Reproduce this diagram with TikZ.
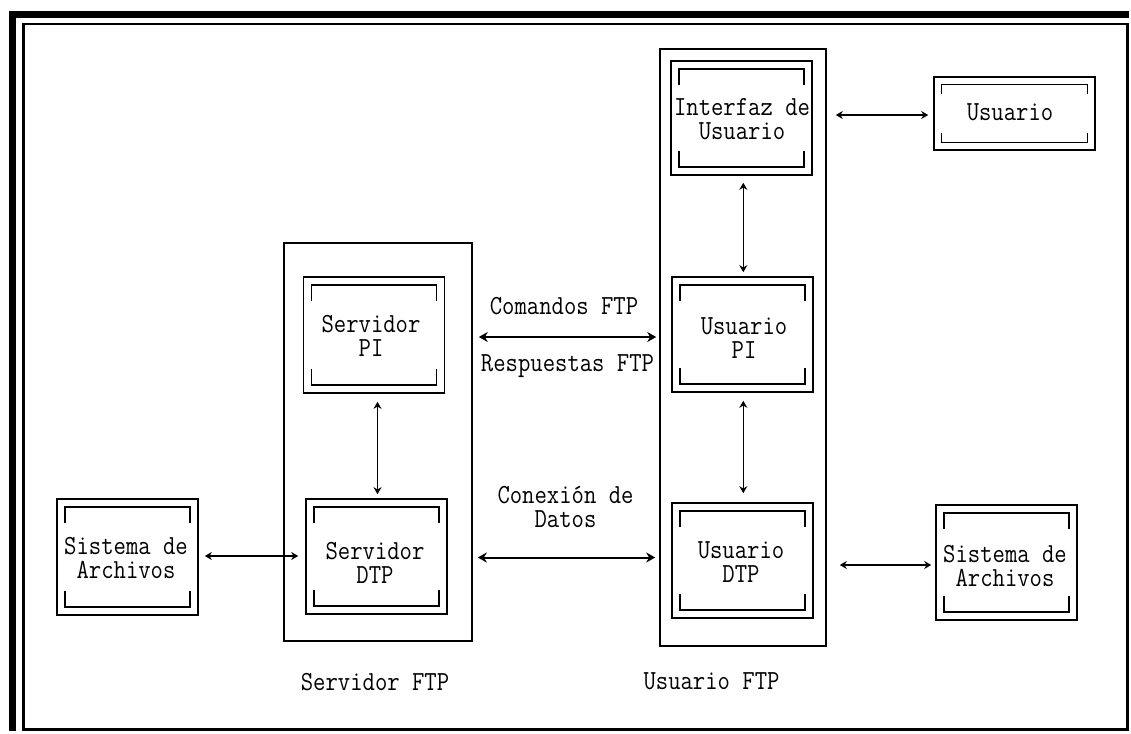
\documentclass[tikz,border=0pt]{standalone}
\usepackage{fontspec}
\usetikzlibrary{arrows.meta,calc}
% inner corner brackets of a double box: node name, inset, tick length
\newcommand\brackets[3]{%
  \draw[line width=1.5pt] ([shift={(#2,#2+#3)}]#1.north west) -- ++(0,-#3)
    -- ([shift={(-#2,#2)}]#1.north east) -- ++(0,#3);
  \draw[line width=1.5pt] ([shift={(#2,-#2-#3)}]#1.south west) -- ++(0,#3)
    -- ([shift={(-#2,-#2)}]#1.south east) -- ++(0,-#3);
}
\begin{document}
\begin{tikzpicture}[x=1pt,y=-1pt,
  box/.style={draw, line width=1.6pt, inner sep=0pt},
  unit/.style={box, minimum width=141pt, minimum height=115pt},
  txt/.style={font=\fontsize{24}{21}\selectfont\ttfamily, align=center, inner sep=0pt, yscale=1.15},
  link/.style={line width=1.5pt, {Stealth[length=7pt,width=8pt]}-{Stealth[length=7pt,width=8pt]}},
  biglink/.style={line width=2pt, {Stealth[length=9pt,width=10pt]}-{Stealth[length=9pt,width=10pt]}}]
\useasboundingbox (0,0) rectangle (1131,733);
\fill[white] (0,0) rectangle (1131,733);

% window frame
\fill[black] (9,11) rectangle (1129,18);
\fill[black] (9,11) rectangle (16,731);
\draw[line width=2.5pt] (23.5,24) rectangle (1127.5,729.5);

% containers
\node[box, minimum width=188pt, minimum height=398pt] (scont) at (378,442) {};
\node[box, minimum width=166pt, minimum height=597pt] (ucont) at (743,347.5) {};

% server side
\node[unit, minimum height=116pt] (spi) at (374,335) {};
\node[unit] (sdtp) at (376.5,556.5) {};
\node[unit, minimum height=116pt] (lfs) at (127.5,557) {};

% user side
\node[unit, minimum height=114pt] (ui) at (741.5,118) {};
\node[unit] (upi) at (742.5,334.5) {};
\node[unit] (udtp) at (742.5,560.5) {};
\node[unit] (rfs) at (1006.5,562.5) {};
\node[box, minimum width=161pt, minimum height=73pt] (usr) at (1014.5,113.5) {};

\brackets{spi}{9}{16}
\brackets{sdtp}{9}{16}
\brackets{lfs}{9}{16}
\brackets{ui}{9}{16}
\brackets{upi}{9}{16}
\brackets{udtp}{9}{16}
\brackets{rfs}{9}{16}
\brackets{usr}{8.5}{9}

% box texts
\node[txt] (spi-t) at (371,336) {Servidor\\PI};
\node[txt] (sdtp-t) at (375,563) {Servidor\\DTP};
\node[txt] (lfs-t) at (126,558) {Sistema de\\Archivos};
\node[txt] (ui-t) at (742,119) {Interfaz de\\Usuario};
\node[txt] (upi-t) at (744,338) {Usuario\\PI};
\node[txt] (udtp-t) at (741,562) {Usuario\\DTP};
\node[txt] (rfs-t) at (1005,566) {Sistema de\\Archivos};
\node[txt] (usr-t) at (1010,112) {Usuario};

% channel labels
\node[txt] (cmd) at (564,306) {Comandos FTP};
\node[txt] (resp) at (567.5,366) {Respuestas FTP};
\node[txt] (data) at (565.5,507) {Conexión de\\Datos};
\node[txt] (scont-t) at (375,682) {Servidor FTP};
\node[txt] (ucont-t) at (711.5,681) {Usuario FTP};

% connectors
\draw[link, shorten <=8pt, shorten >=4pt] ($(spi.south)+(3.5,0)$) -- ($(sdtp.north)+(1,0)$);
\draw[link, shorten <=7pt, shorten >=4pt] ($(ui.south)+(1.8,0)$) -- ($(upi.north)+(0.8,0)$);
\draw[link, shorten <=8pt, shorten >=9pt] ($(upi.south)+(0.8,0)$) -- ($(udtp.north)+(0.8,0)$);
\draw[link, shorten <=6pt, shorten >=7pt] ($(lfs.east)+(0,-1)$) -- ($(sdtp.west)+(0,-0.5)$);
\draw[biglink] ($(scont.east |- spi.center)+(6,2)$) -- ($(ucont.west |- spi.center)+(-3,2)$);
\draw[biglink] ($(scont.east |- sdtp.center)+(5,1)$) -- ($(ucont.west |- sdtp.center)+(-4,1)$);
\draw[link] ($(ucont.east |- usr.center)+(9,1.5)$) -- ($(usr.west)+(-5,1.5)$);
\draw[link] ($(ucont.east |- rfs.center)+(13,2.5)$) -- ($(rfs.west)+(-4,2.5)$);
\end{tikzpicture}
\end{document}
